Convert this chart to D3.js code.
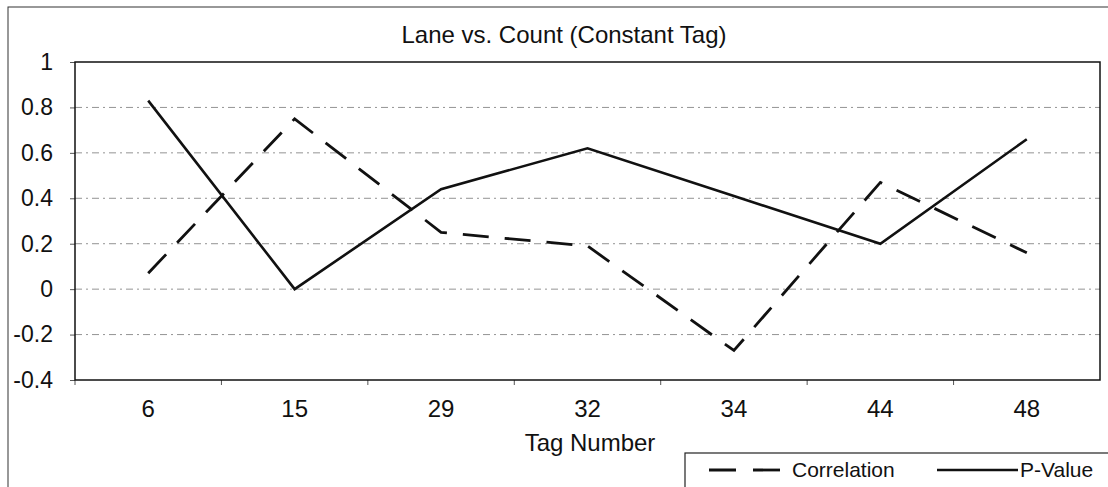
<!DOCTYPE html>
<html><head><meta charset="utf-8">
<script src="https://cdn.jsdelivr.net/npm/d3@7"></script>
<style>body{margin:0;background:#fff}svg{display:block}text{font-family:"Liberation Sans",Arial,sans-serif;fill:#111}</style>
</head><body><svg id="c" width="1108" height="487"></svg>
<script>
const categories = ["6","15","29","32","34","44","48"];
const correlation = [0.07,0.75,0.25,0.19,-0.27,0.47,0.16];
const pValue = [0.83,0.0,0.44,0.62,0.41,0.20,0.66];
const yTicks = [-0.4,-0.2,0,0.2,0.4,0.6,0.8,1];
const title = "Lane vs. Count (Constant Tag)";
const xTitle = "Tag Number";
const seriesNames = ["Correlation","P-Value"];

const svg = d3.select("#c");
const L=75,R=1100,T=62,B=380;
const x = d3.scaleBand().domain(categories).range([L,R]);
const y = d3.scaleLinear().domain([-0.4,1]).range([B,T]);
const FF = "Liberation Sans, Arial, sans-serif";

// outer frame
svg.append("rect").attr("x",8).attr("y",7).attr("width",1120).attr("height",500)
  .attr("fill","none").attr("stroke","#333").attr("stroke-width",1);

// title
svg.append("text").attr("x",564).attr("y",43).attr("text-anchor","middle")
  .attr("font-size",24).text(title);

// gridlines
svg.append("g").selectAll("line").data(yTicks.filter(d=>d>-0.4&&d<1)).join("line")
  .attr("x1",L).attr("x2",R).attr("y1",d=>y(d)).attr("y2",d=>y(d))
  .attr("stroke","#777").attr("stroke-width",0.8).attr("stroke-dasharray","7,4,2,4");

// y axis
const ya = svg.append("g").attr("transform",`translate(${L},0)`)
  .call(d3.axisLeft(y).tickValues(yTicks).tickSize(5).tickPadding(17).tickFormat(d=>String(+d.toFixed(1))));
ya.select(".domain").remove();
ya.selectAll("text").attr("font-size",23).attr("fill","#111").attr("font-family",FF);
ya.selectAll("line").attr("stroke","#555");

// x axis labels
const xa = svg.append("g").attr("transform",`translate(0,${B})`)
  .call(d3.axisBottom(x).tickSize(0).tickPadding(20));
xa.select(".domain").remove();
xa.selectAll("text").attr("font-size",24).attr("fill","#111").attr("font-family",FF);
// tick marks at category boundaries
svg.append("g").selectAll("line").data(categories).join("line")
  .attr("x1",d=>x(d)).attr("x2",d=>x(d)).attr("y1",B).attr("y2",B+5)
  .attr("stroke","#555").attr("stroke-width",1);

// plot border
svg.append("rect").attr("x",L).attr("y",T).attr("width",R-L).attr("height",B-T)
  .attr("fill","none").attr("stroke","#111").attr("stroke-width",1.5);

svg.append("text").attr("x",590).attr("y",451).attr("text-anchor","middle")
  .attr("font-size",24).text(xTitle);

const line = d3.line().x((d,i)=>x(categories[i])+x.bandwidth()/2).y(d=>y(d));
svg.append("path").datum(pValue).attr("d",line).attr("fill","none")
  .attr("stroke","#111").attr("stroke-width",2.6);
svg.append("path").datum(correlation).attr("d",line).attr("fill","none")
  .attr("stroke","#111").attr("stroke-width",2.8).attr("stroke-dasharray","26,16");

// legend
const lg = svg.append("g");
lg.append("rect").attr("x",685).attr("y",453).attr("width",440).attr("height",60)
  .attr("fill","#fff").attr("stroke","#222").attr("stroke-width",1.2);
lg.append("line").attr("x1",709).attr("x2",780).attr("y1",470).attr("y2",470)
  .attr("stroke","#111").attr("stroke-width",2.8).attr("stroke-dasharray","27,17");
lg.append("text").attr("x",792).attr("y",477).attr("font-size",21).text(seriesNames[0]);
lg.append("line").attr("x1",937).attr("x2",1018).attr("y1",470).attr("y2",470)
  .attr("stroke","#111").attr("stroke-width",2.6);
lg.append("text").attr("x",1020).attr("y",477).attr("font-size",21).text(seriesNames[1]);
</script></body></html>
